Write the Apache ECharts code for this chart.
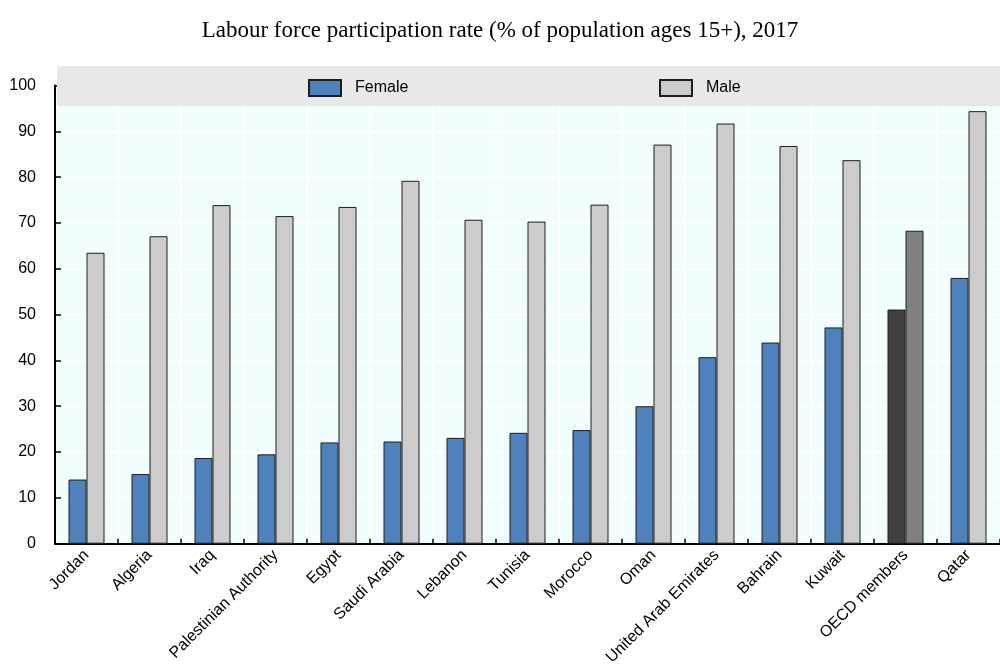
<!DOCTYPE html>
<html>
<head>
<meta charset="utf-8">
<script src="https://cdn.jsdelivr.net/npm/echarts@6/dist/echarts.min.js"></script>
<style>
  html, body { margin: 0; padding: 0; background: #fff; }
  #container { width: 1000px; height: 668px; }
</style>
</head>
<body>
<div id="container"></div>
<script>
var countries = ['Jordan', 'Algeria', 'Iraq', 'Palestinian Authority', 'Egypt', 'Saudi Arabia',
    'Lebanon', 'Tunisia', 'Morocco', 'Oman', 'United Arab Emirates', 'Bahrain', 'Kuwait',
    'OECD members', 'Qatar'];
var female = [14.0, 15.2, 18.7, 19.5, 22.1, 22.3, 23.1, 24.2, 24.8, 30.0, 40.7, 43.9, 47.2, 51.1, 58.0];
var male = [63.5, 67.1, 73.9, 71.5, 73.5, 79.2, 70.7, 70.3, 74.0, 87.1, 91.7, 86.8, 83.7, 68.3, 94.4];
var highlight = 'OECD members';

var dom = document.getElementById('container');
var myChart = echarts.init(dom);

var font = 'Liberation Sans, Arial, sans-serif';
var border = '#1e1e1e';

// highlighted category gets grey shades instead of blue / light grey
function makeData(values, hiColor) {
    var out = [];
    for (var i = 0; i < values.length; i++) {
        if (countries[i] == highlight) {
            out.push({value: values[i], itemStyle: {color: hiColor}});
        } else {
            out.push(values[i]);
        }
    }
    return out;
}

var legendText = {fontFamily: font, fontSize: 16, color: '#000', padding: [0, 0, 0, 9]};

var option = {
    animation: false,
    title: {
        text: 'Labour force participation rate (% of population ages 15+), 2017',
        left: 'center',
        top: 14,
        textStyle: {
            fontFamily: 'Liberation Serif, Times New Roman, serif',
            fontWeight: 'normal',
            fontSize: 23,
            color: '#000'
        }
    },
    graphic: [{
        type: 'rect',
        z: 1,
        shape: {x: 57, y: 66, width: 943, height: 40},
        style: {fill: '#e8e8e8'}
    }],
    legend: [{
        data: [{name: 'Female', icon: 'rect'}],
        left: 303,
        top: 74,
        itemWidth: 32,
        itemHeight: 16,
        textStyle: legendText
    }, {
        data: [{name: 'Male', icon: 'rect'}],
        left: 654,
        top: 74,
        itemWidth: 32,
        itemHeight: 16,
        textStyle: legendText
    }],
    grid: {
        left: 55,
        top: 85.5,
        width: 957,
        bottom: 121,
        show: true,
        backgroundColor: '#f2fefe',
        borderWidth: 0
    },
    xAxis: {
        type: 'category',
        data: countries,
        axisLine: {lineStyle: {color: '#000', width: 2}},
        axisTick: {show: true, inside: true, length: 5, interval: 0, lineStyle: {color: '#000', width: 1.5}},
        splitLine: {show: true, interval: 0, lineStyle: {color: '#ffffff', width: 1.5}},
        axisLabel: {
            interval: 0,
            rotate: 45,
            margin: 9,
            fontFamily: font,
            fontSize: 16,
            color: '#000'
        }
    },
    yAxis: {
        type: 'value',
        min: 0,
        max: 100,
        interval: 10,
        axisLine: {show: true, lineStyle: {color: '#000', width: 2}},
        axisTick: {show: true, inside: true, length: 6, lineStyle: {color: '#000', width: 1.5}},
        splitLine: {show: true, lineStyle: {color: '#ffffff', width: 1.5}},
        axisLabel: {
            margin: 19,
            fontFamily: font,
            fontSize: 16,
            color: '#000'
        }
    },
    series: [{
        name: 'Female',
        type: 'bar',
        barWidth: 18,
        barGap: '0%',
        itemStyle: {color: '#4f81bd', borderColor: border, borderWidth: 1},
        data: makeData(female, '#404040')
    }, {
        name: 'Male',
        type: 'bar',
        barWidth: 18,
        itemStyle: {color: '#cccccc', borderColor: border, borderWidth: 1},
        data: makeData(male, '#808080')
    }]
};

myChart.setOption(option);
</script>
</body>
</html>
